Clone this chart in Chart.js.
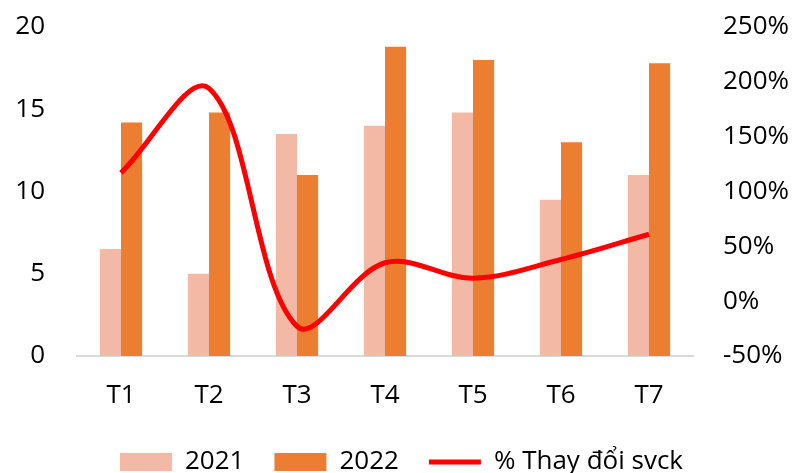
<!DOCTYPE html>
<html>
<head>
<meta charset="utf-8">
<script src="https://cdn.jsdelivr.net/npm/chart.js@4"></script>
<style>
  html, body { margin: 0; padding: 0; background: #fff; }
  #wrap { width: 803px; height: 473px; }
</style>
</head>
<body>
<div id="wrap"><canvas id="sales-chart"></canvas></div>
<script>
const months = ['T1', 'T2', 'T3', 'T4', 'T5', 'T6', 'T7'];
const sales2021 = [6.5, 5, 13.5, 14, 14.8, 9.5, 11];
const sales2022 = [14.2, 14.8, 11, 18.8, 18, 13, 17.8];
const yoyChange = [117, 194, -23, 35, 21, 38, 61];

const leftTicks = [0, 5, 10, 15, 20];
const rightTicks = [-50, 0, 50, 100, 150, 200, 250];

const font = { family: "'Open Sans', sans-serif", size: 26 };

// fixed axis sizes so the plot area lands in the same place every time
function fixWidth(width) {
    return axis => {
        axis.width = width;
        axis.paddingTop = 0;
        axis.paddingBottom = 0;
    };
}

new Chart(document.querySelector('#sales-chart').getContext('2d'), {
    type: 'bar',
    data: {
        labels: months,
        datasets: [{
            label: '2021',
            data: sales2021,
            backgroundColor: '#F4B9A5',
            pointStyle: 'rect',
            order: 1,
            yAxisID: 'y'
        }, {
            label: '2022',
            data: sales2022,
            backgroundColor: '#ED7D31',
            pointStyle: 'rect',
            order: 1,
            yAxisID: 'y'
        }, {
            type: 'line',
            label: '% Thay đổi svck',
            data: yoyChange,
            borderColor: '#FF0000',
            backgroundColor: '#FF0000',
            borderWidth: 5,
            tension: 0.35,
            pointRadius: 0,
            pointStyle: 'line',
            order: 0,
            yAxisID: 'y1'
        }]
    },
    options: {
        responsive: true,
        maintainAspectRatio: false,
        animation: false,
        layout: { padding: { left: 0, right: 0, top: 27, bottom: -12 } },
        datasets: {
            bar: { barPercentage: 1, categoryPercentage: 0.48 }
        },
        scales: {
            x: {
                grid: { display: false },
                border: { display: true, color: '#D9D9D9', width: 2 },
                ticks: { color: '#000', font: font, padding: 16 },
                afterFit: axis => { axis.height = 63; }
            },
            y: {
                position: 'left',
                min: 0,
                max: 20,
                afterBuildTicks: axis => { axis.ticks = leftTicks.map(v => ({ value: v })); },
                grid: { display: false },
                border: { display: false },
                ticks: { color: '#000', font: font, padding: 24 },
                afterFit: fixWidth(77)
            },
            y1: {
                position: 'right',
                min: -50,
                max: 250,
                afterBuildTicks: axis => { axis.ticks = rightTicks.map(v => ({ value: v })); },
                grid: { display: false },
                border: { display: false },
                ticks: { color: '#000', font: font, padding: 22, callback: v => v + '%' },
                afterFit: fixWidth(110)
            }
        },
        plugins: {
            tooltip: { enabled: false },
            legend: {
                position: 'bottom',
                labels: {
                    color: '#000',
                    font: font,
                    usePointStyle: true,
                    pointStyleWidth: 52,
                    boxHeight: 18,
                    padding: 30,
                    sort: (a, b) => a.datasetIndex - b.datasetIndex
                }
            }
        }
    }
});
</script>
</body>
</html>
